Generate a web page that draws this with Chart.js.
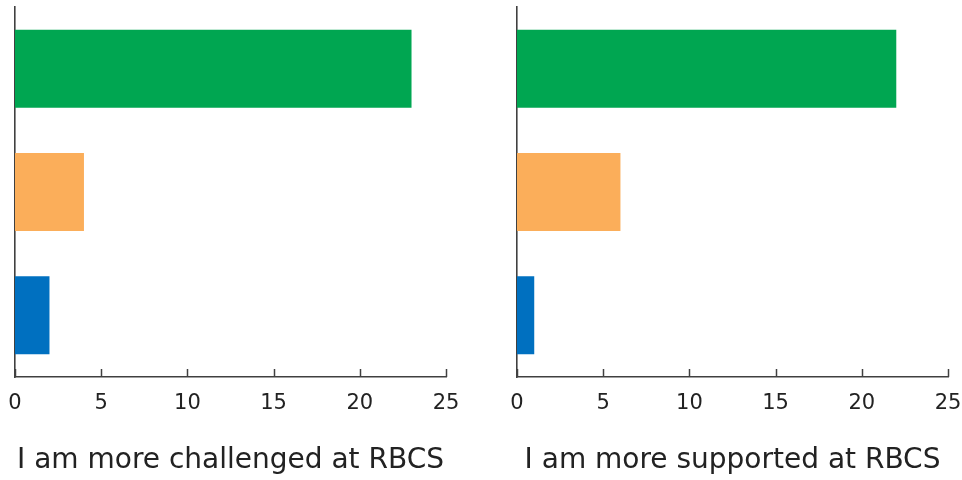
<!DOCTYPE html>
<html>
<head>
<meta charset="utf-8">
<script src="https://cdn.jsdelivr.net/npm/chart.js@4/dist/chart.umd.min.js"></script>
<style>
  html, body { margin: 0; padding: 0; background: #fff; overflow: hidden; }
  .wrap { position: relative; width: 962px; height: 480px; }
  .box { position: absolute; top: 0; height: 480px; }
  #boxL { left: 0; width: 481px; }
  #boxR { left: 481px; width: 492px; }
</style>
</head>
<body>
<div class="wrap">
  <div class="box" id="boxL"><canvas id="left"></canvas></div>
  <div class="box" id="boxR"><canvas id="right"></canvas></div>
</div>
<script>
  'use strict'

  const categories = ['Agree', 'Neutral', 'Disagree']
  const challenged = [23, 4, 2]
  const supported = [22, 6, 1]
  const barColors = ['#00a651', '#fbae5a', '#0070c0']
  const xTicks = [0, 5, 10, 15, 20, 25]

  const FONT = 'DejaVu Sans'

  // tick marks pointing up into the plot, at the scale's own tick values
  const innerTicks = {
    id: 'innerTicks',
    afterDraw(chart) {
      const x = chart.scales.x
      const c = chart.ctx
      c.save()
      c.strokeStyle = '#404040'
      c.lineWidth = 1.5
      x.ticks.forEach(t => {
        const px = Math.round(x.getPixelForValue(t.value)) + 0.5
        c.beginPath()
        c.moveTo(px, x.top)
        c.lineTo(px, x.top - 8)
        c.stroke()
      })
      c.restore()
    }
  }

  function makeChart(id, values, title, pad) {
    return new Chart(document.getElementById(id), {
      type: 'bar',
      data: {
        labels: categories,
        datasets: [{
          data: values,
          backgroundColor: barColors,
          borderWidth: 0,
          categoryPercentage: 0.8,
          barPercentage: 0.79
        }]
      },
      plugins: [innerTicks],
      options: {
        indexAxis: 'y',
        responsive: true,
        maintainAspectRatio: false,
        animation: false,
        layout: { padding: pad },
        plugins: {
          legend: { display: false },
          tooltip: { enabled: false }
        },
        scales: {
          x: {
            min: 0,
            max: 25,
            afterBuildTicks: s => { s.ticks = xTicks.map(v => ({ value: v })) },
            afterFit: s => { s.height = 103 },
            grid: { display: false },
            border: { display: true, color: '#404040', width: 1.6 },
            ticks: {
              padding: 6,
              color: '#222',
              font: { family: FONT, size: 21 },
              maxRotation: 0
            },
            title: {
              display: true,
              text: title,
              color: '#222',
              font: { family: FONT, size: 28 },
              padding: { top: 0, bottom: 2 }
            }
          },
          y: {
            afterFit: s => { s.width = 0 },
            grid: { display: false },
            border: { display: true, color: '#404040', width: 1.6 },
            ticks: { display: false }
          }
        }
      }
    })
  }

  makeChart('left', challenged, 'I am more challenged at RBCS', { left: 15, right: 35, top: 7, bottom: 0 })
  makeChart('right', supported, 'I am more supported at RBCS', { left: 36, right: 25, top: 7, bottom: 0 })
</script>
</body>
</html>
